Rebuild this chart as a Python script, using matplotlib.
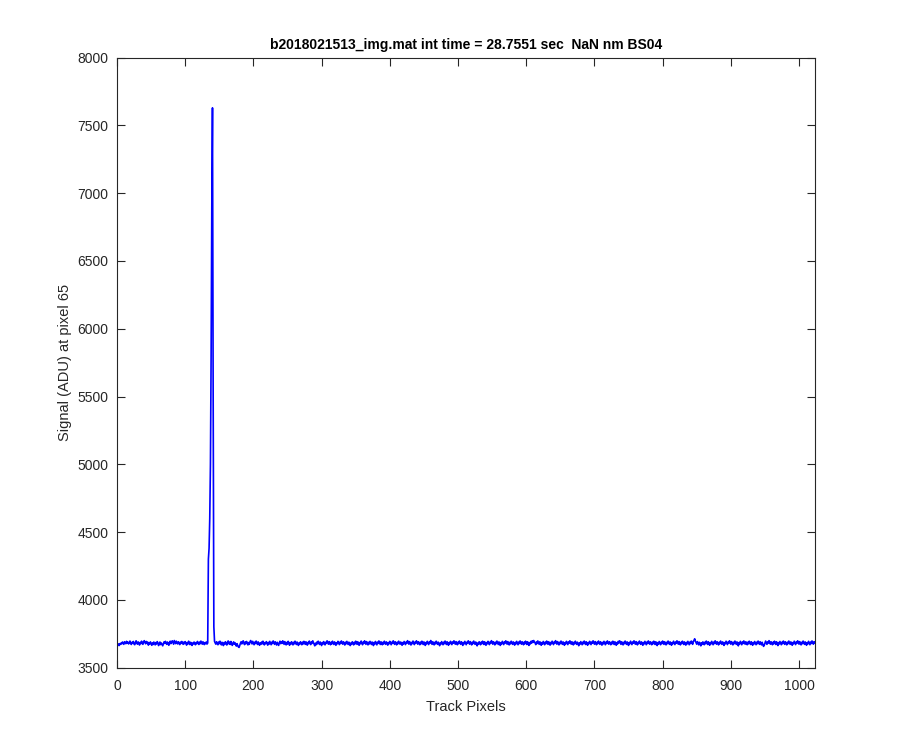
import numpy as np
import matplotlib
matplotlib.use("Agg")
import matplotlib.pyplot as plt

plt.rcParams['font.family'] = ['Liberation Sans', 'DejaVu Sans']

title_text = "b2018021513_img.mat int time = 28.7551 sec  NaN nm BS04"
xlabel_text = "Track Pixels"
ylabel_text = "Signal (ADU) at pixel 65"
xticks = [0, 100, 200, 300, 400, 500, 600, 700, 800, 900, 1000]
yticks = [3500, 4000, 4500, 5000, 5500, 6000, 6500, 7000, 7500, 8000]

# signal values, pixel 1..1024
signal_pre = [
    3668, 3674, 3662, 3676, 3670, 3681, 3675, 3688, 3679, 3671, 3690, 3683, 3676, 3693, 3680, 3687,
    3674, 3682, 3695, 3678, 3670, 3686, 3679, 3692, 3673, 3668, 3684, 3697, 3681, 3672, 3689, 3677,
    3666, 3685, 3676, 3694, 3680, 3671, 3690, 3698, 3684, 3675, 3692, 3679, 3687, 3665, 3682, 3673,
    3689, 3676, 3664, 3681, 3670, 3688, 3677, 3667, 3684, 3674, 3691, 3680, 3662, 3678, 3688, 3669,
    3681, 3670, 3660, 3675, 3689, 3678, 3693, 3680, 3671, 3688, 3677, 3664, 3683, 3694, 3676, 3688,
    3697, 3684, 3672, 3699, 3688, 3676, 3694, 3683, 3674, 3690, 3681, 3669, 3687, 3678, 3692, 3683,
    3671, 3687, 3676, 3691, 3681, 3665, 3684, 3673, 3694, 3680, 3669, 3686, 3678, 3663, 3681, 3674,
    3688, 3677, 3668, 3684, 3676, 3692, 3679, 3670, 3687, 3676, 3695, 3683, 3672, 3690, 3680, 3669,
    3684, 3676, 3688, 3673, 3681,
]
signal_peak = [4300, 4380, 4600, 5000, 5800, 6900, 7630, 5500, 3800]
signal_post = [
    3693, 3681, 3672, 3690, 3679, 3668, 3688, 3676, 3694, 3683, 3667, 3686, 3675, 3662, 3684, 3671, 3690, 3679,
    3666, 3684, 3696, 3675, 3687, 3670, 3692, 3680, 3663, 3677, 3689, 3672, 3683, 3668, 3658, 3676,
    3662, 3652, 3648, 3664, 3679, 3690, 3674, 3685, 3697, 3681, 3669, 3688, 3676, 3692, 3680, 3667,
    3684, 3671, 3690, 3699, 3686, 3674, 3693, 3681, 3668, 3687, 3677, 3695, 3683, 3670, 3689, 3676,
    3664, 3682, 3671, 3688, 3675, 3694, 3681, 3667, 3684, 3676, 3691, 3679, 3665, 3685, 3672, 3693,
    3680, 3668, 3687, 3677, 3696, 3684, 3671, 3690, 3678, 3666, 3686, 3674, 3663, 3681, 3694, 3676,
    3688, 3678, 3697, 3684, 3671, 3691, 3680, 3667, 3685, 3673, 3693, 3682, 3664, 3684, 3672, 3690,
    3679, 3667, 3686, 3675, 3694, 3683, 3670, 3688, 3679, 3663, 3681, 3672, 3690, 3680, 3668, 3687,
    3674, 3693, 3684, 3671, 3690, 3679, 3665, 3685, 3676, 3695, 3683, 3669, 3688, 3678, 3697, 3685,
    3672, 3660, 3679, 3668, 3687, 3675, 3694, 3682, 3670, 3688, 3676, 3662, 3684, 3672, 3691, 3680,
    3667, 3686, 3678, 3697, 3685, 3672, 3691, 3681, 3668, 3687, 3674, 3694, 3682, 3670, 3689, 3679,
    3664, 3683, 3675, 3693, 3681, 3669, 3688, 3677, 3696, 3684, 3672, 3690, 3680, 3666, 3686, 3675,
    3693, 3682, 3670, 3687, 3678, 3662, 3681, 3671, 3690, 3679, 3667, 3686, 3674, 3694, 3685, 3671,
    3690, 3679, 3664, 3684, 3676, 3695, 3682, 3668, 3687, 3678, 3697, 3684, 3671, 3691, 3680, 3667,
    3686, 3674, 3693, 3681, 3670, 3688, 3677, 3662, 3685, 3673, 3692, 3679, 3667, 3687, 3678, 3696,
    3683, 3670, 3690, 3681, 3668, 3686, 3674, 3694, 3682, 3671, 3689, 3680, 3665, 3684, 3675, 3693,
    3681, 3668, 3687, 3678, 3697, 3684, 3671, 3690, 3681, 3667, 3686, 3675, 3694, 3682, 3672, 3688,
    3677, 3664, 3684, 3673, 3692, 3680, 3669, 3688, 3679, 3698, 3685, 3672, 3691, 3680, 3666, 3685,
    3676, 3695, 3682, 3669, 3688, 3679, 3697, 3684, 3672, 3690, 3681, 3668, 3687, 3675, 3694, 3683,
    3670, 3689, 3678, 3663, 3684, 3675, 3693, 3681, 3669, 3688, 3679, 3699, 3684, 3671, 3690, 3680,
    3667, 3686, 3675, 3694, 3682, 3671, 3687, 3678, 3661, 3681, 3672, 3691, 3679, 3668, 3687, 3676,
    3695, 3684, 3670, 3690, 3680, 3664, 3684, 3675, 3693, 3681, 3669, 3688, 3679, 3697, 3685, 3672,
    3691, 3682, 3668, 3687, 3676, 3695, 3683, 3671, 3690, 3680, 3663, 3684, 3674, 3693, 3681, 3668,
    3687, 3679, 3697, 3684, 3672, 3691, 3681, 3667, 3686, 3676, 3695, 3682, 3671, 3688, 3679, 3660,
    3681, 3671, 3690, 3679, 3668, 3687, 3675, 3694, 3684, 3670, 3690, 3680, 3664, 3684, 3675, 3693,
    3682, 3669, 3688, 3679, 3698, 3684, 3672, 3690, 3681, 3667, 3686, 3676, 3695, 3683, 3670, 3689,
    3680, 3663, 3684, 3674, 3693, 3681, 3669, 3688, 3679, 3697, 3685, 3672, 3691, 3680, 3667, 3686,
    3675, 3694, 3682, 3671, 3689, 3680, 3665, 3685, 3674, 3693, 3681, 3668, 3688, 3677, 3696, 3684,
    3672, 3690, 3681, 3668, 3687, 3675, 3694, 3684, 3670, 3690, 3680, 3663, 3684, 3674, 3693, 3681,
    3697, 3685, 3699, 3690, 3681, 3669, 3688, 3677, 3696, 3683, 3671, 3690, 3680, 3664, 3684, 3673,
    3692, 3680, 3668, 3687, 3676, 3695, 3684, 3671, 3690, 3680, 3665, 3685, 3675, 3694, 3682, 3669,
    3688, 3679, 3698, 3684, 3672, 3691, 3681, 3667, 3686, 3676, 3695, 3682, 3671, 3689, 3680, 3664,
    3684, 3675, 3693, 3681, 3669, 3688, 3679, 3697, 3685, 3672, 3690, 3680, 3667, 3686, 3675, 3694,
    3682, 3671, 3687, 3678, 3661, 3681, 3672, 3691, 3679, 3668, 3687, 3676, 3695, 3684, 3670, 3690,
    3680, 3664, 3684, 3675, 3693, 3681, 3669, 3688, 3679, 3697, 3685, 3672, 3691, 3682, 3668, 3687,
    3676, 3695, 3683, 3671, 3690, 3680, 3665, 3685, 3674, 3693, 3681, 3668, 3688, 3677, 3696, 3684,
    3672, 3690, 3681, 3668, 3687, 3675, 3694, 3683, 3670, 3690, 3680, 3664, 3684, 3674, 3693, 3681,
    3697, 3685, 3671, 3690, 3680, 3667, 3686, 3676, 3695, 3682, 3671, 3689, 3680, 3663, 3684, 3675,
    3694, 3682, 3669, 3688, 3679, 3697, 3684, 3672, 3691, 3681, 3667, 3686, 3676, 3695, 3682, 3671,
    3689, 3680, 3664, 3684, 3674, 3693, 3681, 3668, 3688, 3677, 3696, 3684, 3672, 3690, 3681, 3668,
    3687, 3675, 3694, 3683, 3670, 3690, 3680, 3662, 3684, 3673, 3692, 3680, 3668, 3687, 3676, 3695,
    3684, 3671, 3690, 3680, 3667, 3686, 3676, 3695, 3682, 3671, 3689, 3680, 3664, 3684, 3675, 3694,
    3682, 3669, 3688, 3679, 3697, 3684, 3672, 3691, 3681, 3667, 3686, 3676, 3694, 3683, 3670, 3689,
    3680, 3665, 3685, 3674, 3693, 3681, 3668, 3688, 3677, 3695, 3684, 3671, 3692, 3700, 3712, 3694,
    3684, 3672, 3691, 3681, 3667, 3686, 3676, 3660, 3682, 3671, 3689, 3680, 3668, 3687, 3676, 3695,
    3684, 3670, 3690, 3680, 3664, 3684, 3674, 3693, 3681, 3668, 3688, 3677, 3697, 3685, 3672, 3690,
    3681, 3667, 3686, 3676, 3695, 3682, 3671, 3689, 3680, 3663, 3684, 3675, 3694, 3682, 3669, 3688,
    3679, 3697, 3684, 3672, 3691, 3681, 3667, 3686, 3676, 3695, 3682, 3671, 3689, 3680, 3660, 3684,
    3674, 3693, 3681, 3668, 3688, 3677, 3696, 3684, 3672, 3690, 3681, 3668, 3687, 3675, 3694, 3683,
    3670, 3690, 3680, 3664, 3684, 3673, 3692, 3680, 3668, 3687, 3676, 3695, 3684, 3671, 3690, 3680,
    3667, 3686, 3668, 3656, 3664, 3680, 3695, 3682, 3671, 3689, 3680, 3698, 3684, 3672, 3690, 3681,
    3668, 3687, 3675, 3694, 3683, 3670, 3690, 3680, 3662, 3684, 3673, 3692, 3680, 3668, 3687, 3676,
    3695, 3684, 3671, 3690, 3680, 3667, 3686, 3676, 3695, 3682, 3671, 3689, 3680, 3664, 3684, 3675,
    3694, 3682, 3669, 3688, 3679, 3697, 3684, 3672, 3691, 3681, 3667, 3686, 3676, 3695, 3682, 3671,
    3689, 3680, 3664, 3684, 3674, 3693, 3681, 3668, 3688, 3677, 3696, 3684, 3672, 3690, 3681, 3688,
]
signal = np.array(signal_pre + signal_peak + signal_post, dtype=float)
pixels = np.arange(1, len(signal) + 1)

dark = (0.15, 0.15, 0.15)

fig = plt.figure(figsize=(9, 7.5), dpi=100)
ax = fig.add_axes([0.13, 0.11, 0.776, 0.813])
ax.plot(pixels, signal, color=(0, 0, 1), linewidth=1.2)

ax.set_xlim(0, 1024)
ax.set_ylim(3500, 8000)
ax.set_xticks(xticks)
ax.set_yticks(yticks)
ax.tick_params(direction='in', top=True, right=True, length=6, width=0.8,
               colors=dark, labelsize=10, labelcolor=dark)
ax.tick_params(axis='x', pad=8)
ax.tick_params(axis='y', pad=6)
for s in ax.spines.values():
    s.set_color(dark)
    s.set_linewidth(0.8)

ax.set_title(title_text, fontsize=10, fontweight='bold', color='black', pad=6)
ax.set_xlabel(xlabel_text, fontsize=10.5, color=dark, labelpad=5)
ax.set_ylabel(ylabel_text, fontsize=10.5, color=dark, labelpad=4)

fig.savefig("out.png", dpi=100, facecolor='white')
